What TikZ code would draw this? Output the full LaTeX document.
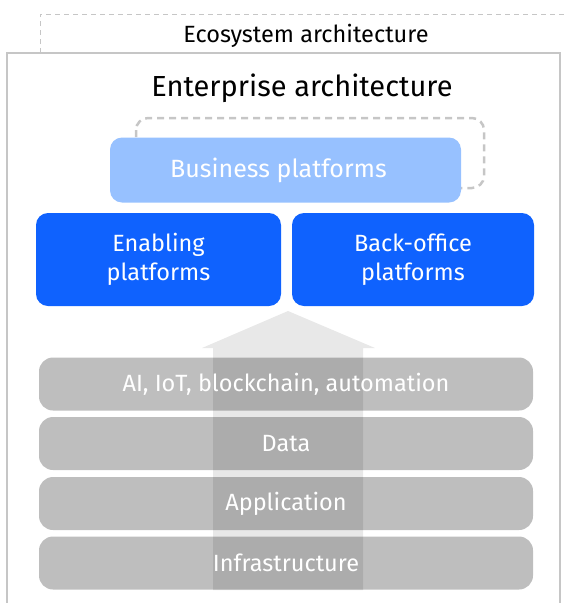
\documentclass[tikz,border=0pt]{standalone}
\usepackage{fontspec}
\setmainfont{Fira Sans}
\definecolor{ibmblue}{HTML}{0F62FE}
\definecolor{lightblue}{HTML}{97C1FF}
\definecolor{arrowgray}{HTML}{E8E8E8}
\definecolor{linegray}{HTML}{C6C6C6}
\tikzset{
  platform/.style={rounded corners=12pt, fill=ibmblue, text=white, align=center,
    minimum width=245pt, minimum height=93pt, font=\fontsize{23.5}{28.5}\selectfont},
  layer/.style={rounded corners=14pt, fill=black, fill opacity=0.255, text opacity=1,
    text=white, minimum width=494pt, minimum height=53pt, font=\fontsize{23.5}{28}\selectfont},
}
\begin{document}
\begin{tikzpicture}[x=1pt,y=-1pt]
\useasboundingbox (0,0) rectangle (566,603);
%\draw[very thin,color=gray,step=50] (0,0) grid (566,603);
\draw[linegray,dash pattern=on 5pt off 4pt,line width=1pt] (40,53) -- (40,14) -- (566,14);
\node (eco) at (306,36) {\fontsize{23.5}{28}\selectfont Ecosystem architecture};
\draw[linegray,line width=1.5pt] (7,603) -- (7,53) -- (560,53) -- (560,603);
\node (ent) at (302,88) {\fontsize{29}{34}\selectfont Enterprise architecture};
\draw[linegray,line width=2.5pt,dash pattern=on 7pt off 5pt,rounded corners=12pt] (136,118) rectangle (484,188);
\node[platform,fill=lightblue,minimum width=351pt,minimum height=65pt,
  font=\fontsize{25}{30}\selectfont] (biz) at (285.5,170) {\hspace*{-14pt}Business platforms};
\node[platform] (enab) at (158.5,259.5) {Enabling\\platforms};
\node[platform,minimum width=242pt] (back) at (413,259.5) {Back-office\\platforms};
\fill[arrowgray] (288,311) -- (375,348) -- (363,348) -- (363,590) -- (213,590) -- (213,348) -- (202,348) -- cycle;
\foreach \name/\y/\txt in {ai/384/{AI, IoT, blockchain, automation},data/443.5/Data,app/503.5/Application,infra/563/Infrastructure}
  \node[layer] (\name) at (286,\y) {\txt};
\end{tikzpicture}
\end{document}
